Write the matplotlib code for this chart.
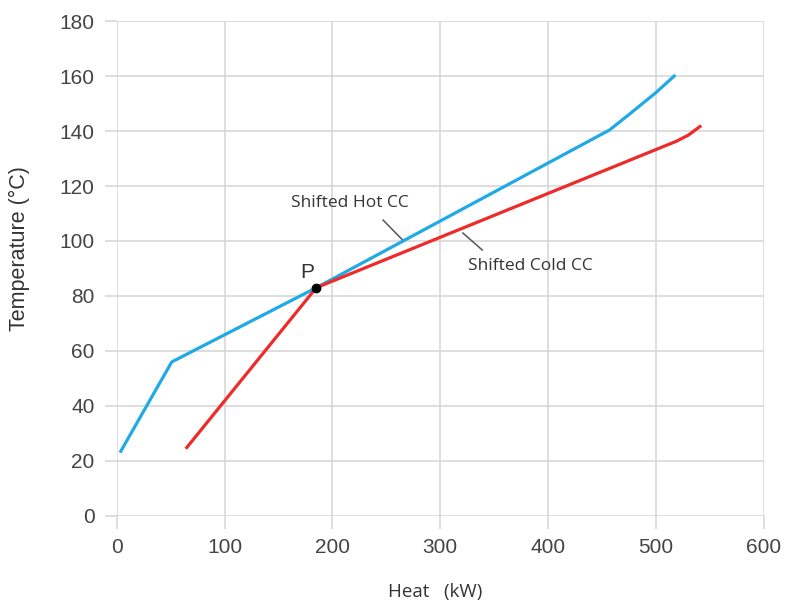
import matplotlib
matplotlib.use('Agg')
import matplotlib.pyplot as plt

# composite curves
hot_heat = [3, 51, 185, 457, 475, 500, 518]
hot_temp = [23, 56, 83, 140.4, 146, 154, 160.4]
cold_heat = [64, 185, 519, 530, 542]
cold_temp = [24.4, 83, 136.3, 138.5, 142]
pinch = (185, 83)

x_ticks = [0, 100, 200, 300, 400, 500, 600]
y_ticks = [0, 20, 40, 60, 80, 100, 120, 140, 160, 180]

grid_col = '#d4d4d4'
text_col = '#444444'

fig = plt.figure(figsize=(7.89, 6.04), dpi=100)
ax = fig.add_axes([0.148, 0.146, 0.820, 0.819])

ax.plot(hot_heat, hot_temp, color='#1fa9e6', lw=2.3, solid_capstyle='butt', zorder=3)
ax.plot(cold_heat, cold_temp, color='#ee2a2a', lw=2.3, solid_capstyle='butt', zorder=3)
ax.plot(*pinch, 'o', color='black', ms=6, zorder=4)

ax.set_xlim(0, 600)
ax.set_ylim(0, 180)
ax.set_xticks(x_ticks)
ax.set_yticks(y_ticks)
ax.grid(True, color=grid_col, lw=1.1)
ax.set_axisbelow(True)
for s in ax.spines.values():
    s.set_visible(False)
ax.tick_params(length=9, width=1.1, color=grid_col, labelcolor=text_col,
               labelsize=15, pad=7)
for lab in ax.get_xticklabels() + ax.get_yticklabels():
    lab.set_family('Liberation Sans')

# annotations
ax.text(216, 113.8, 'Shifted Hot CC', fontsize=12.5, color='#333333', ha='center',
        va='center', family='Open Sans')
ax.plot([247, 265], [107.6, 100.4], color='#555555', lw=1.1, zorder=2)
ax.text(384, 91, 'Shifted Cold CC', fontsize=12.5, color='#333333', ha='center',
        va='center', family='Open Sans')
ax.plot([321, 339], [102.9, 96.7], color='#555555', lw=1.1, zorder=2)
ax.text(177, 88.5, 'P', fontsize=15, color='#333333', ha='center', va='center',
        family='Liberation Sans')

fig.text(0.551, 0.02, 'Heat   (kW)', fontsize=13.5, color='#333333', ha='center',
         va='center', family='Open Sans')
fig.text(0.025, 0.589, 'Temperature (°C)', fontsize=15.5, color='#333333', ha='center',
         va='center', rotation=90, family='Liberation Sans')

fig.savefig('out.png', dpi=100)
plt.close(fig)
